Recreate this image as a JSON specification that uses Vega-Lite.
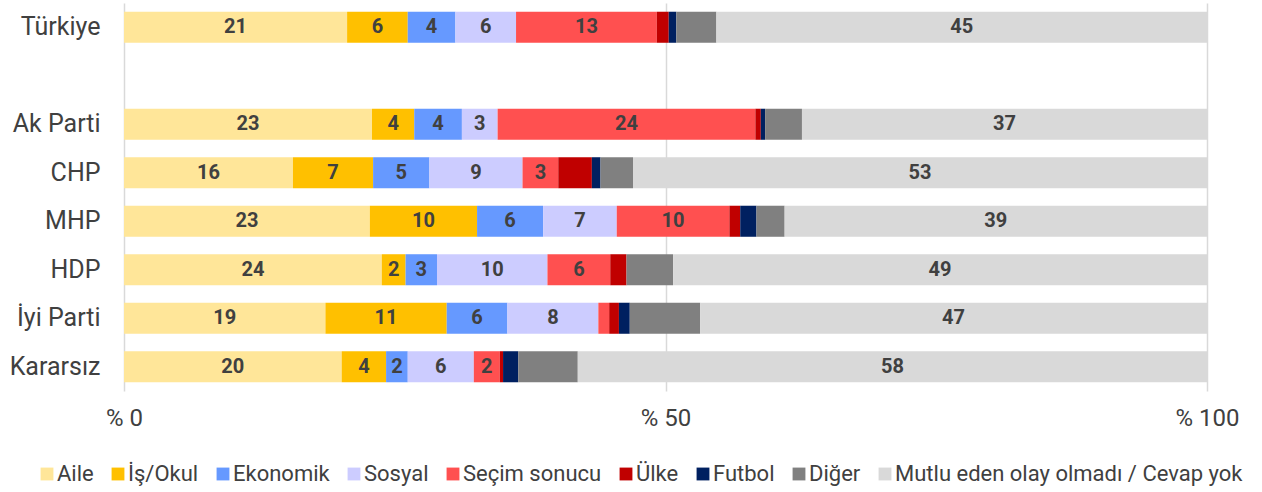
{
  "$schema": "https://vega.github.io/schema/vega-lite/v6.json",
  "width": 1083,
  "height": 388,
  "autosize": {"type": "none"},
  "padding": {"left": 124, "top": 3, "right": 55, "bottom": 101},
  "background": "white",
  "config": {
    "view": {"stroke": null},
    "font": "Roboto",
    "axis": {"labelFont": "Roboto", "labelColor": "#404040"},
    "legend": {"labelFont": "Roboto"}
  },
  "data": {
    "values": [
      {"party": "Türkiye", "cat": "Aile", "value": 20.6},
      {"party": "Türkiye", "cat": "İş/Okul", "value": 5.6},
      {"party": "Türkiye", "cat": "Ekonomik", "value": 4.4},
      {"party": "Türkiye", "cat": "Sosyal", "value": 5.6},
      {"party": "Türkiye", "cat": "Seçim sonucu", "value": 13.0},
      {"party": "Türkiye", "cat": "Ülke", "value": 1.1},
      {"party": "Türkiye", "cat": "Futbol", "value": 0.7},
      {"party": "Türkiye", "cat": "Diğer", "value": 3.7},
      {"party": "Türkiye", "cat": "Mutlu eden olay olmadı / Cevap yok", "value": 45.3},
      {"party": "Ak Parti", "cat": "Aile", "value": 22.9},
      {"party": "Ak Parti", "cat": "İş/Okul", "value": 3.9},
      {"party": "Ak Parti", "cat": "Ekonomik", "value": 4.4},
      {"party": "Ak Parti", "cat": "Sosyal", "value": 3.3},
      {"party": "Ak Parti", "cat": "Seçim sonucu", "value": 23.8},
      {"party": "Ak Parti", "cat": "Ülke", "value": 0.5},
      {"party": "Ak Parti", "cat": "Futbol", "value": 0.4},
      {"party": "Ak Parti", "cat": "Diğer", "value": 3.4},
      {"party": "Ak Parti", "cat": "Mutlu eden olay olmadı / Cevap yok", "value": 37.4},
      {"party": "CHP", "cat": "Aile", "value": 15.6},
      {"party": "CHP", "cat": "İş/Okul", "value": 7.4},
      {"party": "CHP", "cat": "Ekonomik", "value": 5.2},
      {"party": "CHP", "cat": "Sosyal", "value": 8.6},
      {"party": "CHP", "cat": "Seçim sonucu", "value": 3.3},
      {"party": "CHP", "cat": "Ülke", "value": 3.1},
      {"party": "CHP", "cat": "Futbol", "value": 0.8},
      {"party": "CHP", "cat": "Diğer", "value": 3.0},
      {"party": "CHP", "cat": "Mutlu eden olay olmadı / Cevap yok", "value": 53.0},
      {"party": "MHP", "cat": "Aile", "value": 22.7},
      {"party": "MHP", "cat": "İş/Okul", "value": 9.9},
      {"party": "MHP", "cat": "Ekonomik", "value": 6.1},
      {"party": "MHP", "cat": "Sosyal", "value": 6.8},
      {"party": "MHP", "cat": "Seçim sonucu", "value": 10.4},
      {"party": "MHP", "cat": "Ülke", "value": 1.0},
      {"party": "MHP", "cat": "Futbol", "value": 1.5},
      {"party": "MHP", "cat": "Diğer", "value": 2.6},
      {"party": "MHP", "cat": "Mutlu eden olay olmadı / Cevap yok", "value": 39.0},
      {"party": "HDP", "cat": "Aile", "value": 23.8},
      {"party": "HDP", "cat": "İş/Okul", "value": 2.2},
      {"party": "HDP", "cat": "Ekonomik", "value": 2.9},
      {"party": "HDP", "cat": "Sosyal", "value": 10.2},
      {"party": "HDP", "cat": "Seçim sonucu", "value": 5.8},
      {"party": "HDP", "cat": "Ülke", "value": 1.5},
      {"party": "HDP", "cat": "Futbol", "value": 0.0},
      {"party": "HDP", "cat": "Diğer", "value": 4.3},
      {"party": "HDP", "cat": "Mutlu eden olay olmadı / Cevap yok", "value": 49.3},
      {"party": "İyi Parti", "cat": "Aile", "value": 18.6},
      {"party": "İyi Parti", "cat": "İş/Okul", "value": 11.2},
      {"party": "İyi Parti", "cat": "Ekonomik", "value": 5.6},
      {"party": "İyi Parti", "cat": "Sosyal", "value": 8.4},
      {"party": "İyi Parti", "cat": "Seçim sonucu", "value": 1.0},
      {"party": "İyi Parti", "cat": "Ülke", "value": 0.9},
      {"party": "İyi Parti", "cat": "Futbol", "value": 1.0},
      {"party": "İyi Parti", "cat": "Diğer", "value": 6.5},
      {"party": "İyi Parti", "cat": "Mutlu eden olay olmadı / Cevap yok", "value": 46.8},
      {"party": "Kararsız", "cat": "Aile", "value": 20.1},
      {"party": "Kararsız", "cat": "İş/Okul", "value": 4.1},
      {"party": "Kararsız", "cat": "Ekonomik", "value": 2.0},
      {"party": "Kararsız", "cat": "Sosyal", "value": 6.1},
      {"party": "Kararsız", "cat": "Seçim sonucu", "value": 2.4},
      {"party": "Kararsız", "cat": "Ülke", "value": 0.3},
      {"party": "Kararsız", "cat": "Futbol", "value": 1.4},
      {"party": "Kararsız", "cat": "Diğer", "value": 5.5},
      {"party": "Kararsız", "cat": "Mutlu eden olay olmadı / Cevap yok", "value": 58.1}
    ]
  },
  "transform": [
    {"window": [{"op": "row_number", "as": "idx"}]},
    {"stack": "value", "groupby": ["party"], "sort": [{"field": "idx", "order": "ascending"}], "as": ["v0", "v1"]},
    {"calculate": "(datum.v0 + datum.v1) / 2", "as": "mid"}
  ],
  "encoding": {
    "y": {
      "field": "party",
      "type": "nominal",
      "scale": {
        "domain": ["Türkiye", " ", "Ak Parti", "CHP", "MHP", "HDP", "İyi Parti", "Kararsız"],
        "paddingInner": 0.36,
        "paddingOuter": 0.18
      },
      "axis": {
        "title": null,
        "ticks": false,
        "domain": false,
        "labelFontSize": 25,
        "labelPadding": 24,
        "labelColor": "#404040"
      }
    }
  },
  "layer": [
    {
      "mark": {"type": "bar"},
      "encoding": {
        "x": {
          "field": "v0",
          "type": "quantitative",
          "scale": {"domain": [0, 100], "nice": false},
          "axis": {
            "title": null,
            "values": [0, 50, 100],
            "labelExpr": "'% ' + datum.value",
            "grid": true,
            "gridColor": "#d9d9d9",
            "gridWidth": 1.5,
            "domain": false,
            "ticks": false,
            "labelFontSize": 24,
            "labelPadding": 15,
            "labelColor": "#404040",
            "labelFlush": false
          }
        },
        "x2": {"field": "v1"},
        "color": {
          "field": "cat",
          "type": "nominal",
          "scale": {
            "domain": ["Aile", "İş/Okul", "Ekonomik", "Sosyal", "Seçim sonucu", "Ülke", "Futbol", "Diğer", "Mutlu eden olay olmadı / Cevap yok"],
            "range": ["#FFE699", "#FFC000", "#6699FF", "#CCCCFF", "#FF5050", "#C00000", "#002060", "#808080", "#D9D9D9"]
          },
          "legend": {
            "title": null,
            "orient": "none",
            "legendX": -88,
            "legendY": 460,
            "direction": "horizontal",
            "columns": 9,
            "symbolType": "square",
            "symbolSize": 165,
            "symbolStrokeWidth": 0,
            "labelFontSize": 22,
            "labelLimit": 0,
            "labelColor": "#404040",
            "labelOffset": -1,
            "columnPadding": 13
          }
        }
      }
    },
    {
      "transform": [
        {"filter": "datum.value >= 1.5 && indexof(['Ülke', 'Futbol', 'Diğer'], datum.cat) < 0"}
      ],
      "mark": {"type": "text", "fontWeight": "bold", "fontSize": 20, "color": "#404040", "baseline": "middle", "align": "center"},
      "encoding": {
        "x": {"field": "mid", "type": "quantitative"},
        "text": {"field": "value", "type": "quantitative", "format": ".0f"}
      }
    }
  ]
}
